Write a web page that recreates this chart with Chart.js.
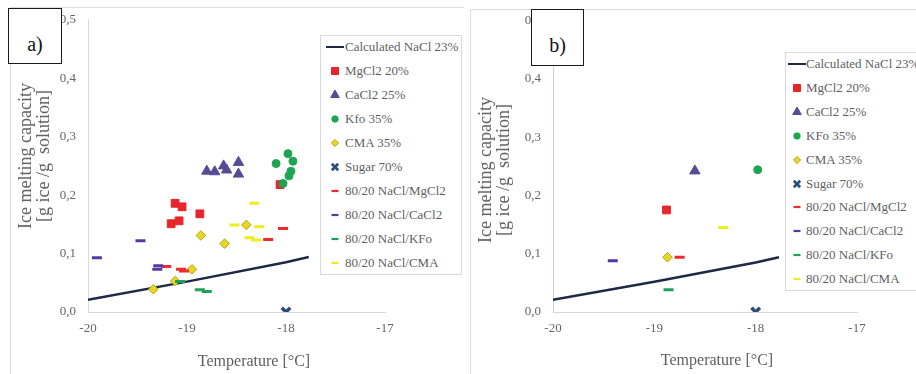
<!DOCTYPE html>
<html>
<head>
<meta charset="utf-8">
<title>Ice melting capacity</title>
<script src="https://cdn.jsdelivr.net/npm/chart.js@4.4.1/dist/chart.umd.min.js"></script>
<style>
  body { margin: 0; background: #fff; font-family: "Liberation Serif", "Times New Roman", serif; }
  #page { position: relative; width: 916px; height: 374px; overflow: hidden; }
  .frame { position: absolute; border-top: 1px solid #dcdcdc; border-left: 1px solid #dcdcdc; }
  canvas.plot { position: absolute; top: 0; }
  .tag { position: absolute; box-sizing: border-box; border: 1.5px solid #1a1a1a; background: #fff;
         font-size: 20px; line-height: 24px; padding-top: 23px; color: #111; text-align: center; }
  .legend { position: absolute; box-sizing: border-box; border: 1px solid #d9d9d9; background: #fff; overflow: hidden; }
  .legend .row { position: absolute; left: 0; right: 0; height: 24px; white-space: nowrap; }
  .legend canvas { position: absolute; top: 5px; }
  .legend span { position: absolute; top: 0; line-height: 24px; font-size: 13px; color: #5f5f5f; }
  .xtitle { position: absolute; font-size: 16px; color: #5f5f5f; white-space: nowrap; transform: translate(-50%, -50%); }
  .ytitle { position: absolute; font-size: 18px; line-height: 18px; color: #5f5f5f; text-align: center; white-space: pre;
            transform: translate(-50%, -50%) rotate(-90deg); }
</style>
</head>
<body>
<div id="page"></div>

<script>
// axis ticks
const xTicks = [-20, -19, -18, -17];
const yTicks = [0, 0.1, 0.2, 0.3, 0.4, 0.5];

// series names (panel b writes KFo)
const labelsA = ['Calculated NaCl 23%', 'MgCl2 20%', 'CaCl2 25%', 'Kfo 35%', 'CMA 35%', 'Sugar 70%',
  '80/20 NaCl/MgCl2', '80/20 NaCl/CaCl2', '80/20 NaCl/KFo', '80/20 NaCl/CMA'];
const labelsB = ['Calculated NaCl 23%', 'MgCl2 20%', 'CaCl2 25%', 'KFo 35%', 'CMA 35%', 'Sugar 70%',
  '80/20 NaCl/MgCl2', '80/20 NaCl/CaCl2', '80/20 NaCl/KFo', '80/20 NaCl/CMA'];

// [temperature °C, g ice / g solution]
const calcNaCl23 = [[-20, 0.021], [-19, 0.052], [-18, 0.085], [-17.77, 0.094]];

// panel a) - all measurements
const aMgCl2 = [[-19.12, 0.186], [-19.05, 0.180], [-19.16, 0.151], [-19.08, 0.156], [-18.87, 0.168], [-18.06, 0.218]];
const aCaCl2 = [[-18.80, 0.241], [-18.72, 0.240], [-18.63, 0.250], [-18.60, 0.243], [-18.48, 0.256], [-18.48, 0.236]];
const aKfo = [[-18.10, 0.254], [-17.98, 0.271], [-17.93, 0.258], [-17.95, 0.241], [-17.97, 0.233], [-18.03, 0.220]];
const aCMA = [[-19.34, 0.039], [-19.12, 0.053], [-18.95, 0.073], [-18.86, 0.131], [-18.62, 0.117], [-18.40, 0.149]];
const aSugar = [[-18.0, 0.0]];
const aNaClMgCl2 = [[-19.21, 0.078], [-19.06, 0.073], [-19.03, 0.070], [-18.18, 0.124], [-18.03, 0.143]];
const aNaClCaCl2 = [[-19.91, 0.093], [-19.47, 0.122], [-19.29, 0.079], [-19.30, 0.073]];
const aNaClKFo = [[-19.07, 0.052], [-18.87, 0.038], [-18.80, 0.035]];
const aNaClCMA = [[-18.52, 0.149], [-18.32, 0.186], [-18.27, 0.146], [-18.37, 0.127], [-18.30, 0.123]];

// panel b) - averages
const bMgCl2 = [[-18.88, 0.175]];
const bCaCl2 = [[-18.60, 0.242]];
const bKFo = [[-17.98, 0.244]];
const bCMA = [[-18.87, 0.094]];
const bSugar = [[-18.0, 0.0]];
const bNaClMgCl2 = [[-18.75, 0.094]];
const bNaClCaCl2 = [[-19.41, 0.088]];
const bNaClKFo = [[-18.86, 0.038]];
const bNaClCMA = [[-18.32, 0.145]];

const seriesA = [calcNaCl23, aMgCl2, aCaCl2, aKfo, aCMA, aSugar, aNaClMgCl2, aNaClCaCl2, aNaClKFo, aNaClCMA];
const seriesB = [calcNaCl23, bMgCl2, bCaCl2, bKFo, bCMA, bSugar, bNaClMgCl2, bNaClCaCl2, bNaClKFo, bNaClCMA];

// marker look, same order as the series
const seriesStyle = [
  { line: true, color: '#1d2a45', width: 2.5 },
  { pointStyle: 'rect', color: '#e6262c', r: 5.5, lr: 5 },
  { pointStyle: 'triangle', color: '#574c94', r: 6, lr: 5 },
  { pointStyle: 'circle', color: '#1ea552', r: 4, lr: 3.2 },
  { pointStyle: 'rectRot', color: '#e8d625', border: '#b5a510', r: 4.8, lr: 3.6 },
  { pointStyle: 'crossRot', color: '#2b4d7c', r: 6, lr: 4.5, bw: 3.5 },
  { pointStyle: 'line', color: '#ee2b2b', r: 5, lr: 3.5, bw: 3 },
  { pointStyle: 'line', color: '#5638a4', r: 5, lr: 3.5, bw: 3 },
  { pointStyle: 'line', color: '#1f9f5c', r: 5, lr: 3.5, bw: 3 },
  { pointStyle: 'line', color: '#eded1f', r: 5, lr: 3.5, bw: 3 },
];

const panels = [
  {
    left: 0, width: 460, axisLeft: 88, padTop: 18, padRight: 75, yBorder: '#d9d9d9',
    labels: labelsA, series: seriesA,
    frame: { left: 10, top: 7, width: 453, height: 400 },
    tag: { left: 8, top: 8, w: 54, h: 56, text: 'a)' },
    legend: { left: 320, top: 35, w: 142, h: 240, mark: 14.5, text: 25, first: 12, step: 24 },
    xTitle: { x: 254, y: 361 }, yTitle: { x: 34, y: 156 },
  },
  {
    left: 460, width: 456, axisLeft: 93, padTop: 20.5, padRight: 59, yBorder: '#bcd6ec',
    labels: labelsB, series: seriesB,
    frame: { left: 470, top: 9, width: 460, height: 400 },
    tag: { left: 531, top: 9, w: 53, h: 57, text: 'b)' },
    legend: { left: 785, top: 52, w: 140, h: 239, mark: 12, text: 21, first: 12, step: 23.9 },
    xTitle: { x: 717, y: 360 }, yTitle: { x: 494, y: 170 },
  },
];

const tickFont = { family: '"Liberation Serif", "Times New Roman", serif', size: 13 };
const page = document.getElementById('page');

function el(tag, cls, css) {
  const e = document.createElement(tag);
  if (cls) e.className = cls;
  Object.assign(e.style, css || {});
  page.appendChild(e);
  return e;
}

function buildDatasets(labels, series) {
  return series.map((pts, i) => {
    const s = seriesStyle[i];
    const base = { label: labels[i], data: pts.map(p => ({ x: p[0], y: p[1] })), order: -i };
    if (s.line) {
      return { ...base, showLine: true, pointRadius: 0, borderColor: s.color, borderWidth: s.width };
    }
    return {
      ...base,
      pointStyle: s.pointStyle,
      pointRadius: s.r,
      pointHoverRadius: s.r,
      backgroundColor: s.color,
      borderColor: s.border || s.color,
      borderWidth: s.bw || 1,
    };
  });
}

function drawLegend(p) {
  const L = p.legend;
  const box = el('div', 'legend', { left: L.left + 'px', top: L.top + 'px', width: L.w + 'px', height: L.h + 'px' });
  p.labels.forEach((label, i) => {
    const s = seriesStyle[i];
    const row = document.createElement('div');
    row.className = 'row';
    row.style.top = (L.first + i * L.step - 12 - 1) + 'px';
    box.appendChild(row);

    const c = document.createElement('canvas');
    c.width = 18; c.height = 14;
    c.style.left = (L.mark - 9 - 1) + 'px';
    row.appendChild(c);
    const ctx = c.getContext('2d');
    if (s.line) {
      ctx.strokeStyle = s.color; ctx.lineWidth = 2;
      ctx.beginPath(); ctx.moveTo(0, 7); ctx.lineTo(18, 7); ctx.stroke();
    } else {
      ctx.fillStyle = s.color;
      ctx.strokeStyle = s.border || s.color;
      ctx.lineWidth = s.bw ? s.bw - 0.8 : 1;
      Chart.helpers.drawPoint(ctx, { pointStyle: s.pointStyle, radius: s.lr, rotation: 0, borderWidth: ctx.lineWidth }, 9, 7);
    }

    const t = document.createElement('span');
    t.style.left = (L.text - 1) + 'px';
    t.textContent = label;
    row.appendChild(t);
  });
}

function render() {
  panels.forEach(p => {
    el('div', 'frame', { left: p.frame.left + 'px', top: p.frame.top + 'px', width: p.frame.width + 'px', height: p.frame.height + 'px' });

    const canvas = el('canvas', 'plot', { left: p.left + 'px' });
    canvas.width = p.width;
    canvas.height = 374;

    new Chart(canvas.getContext('2d'), {
      type: 'scatter',
      data: { datasets: buildDatasets(p.labels, p.series) },
      options: {
        responsive: false,
        animation: false,
        layout: { padding: { top: p.padTop, right: p.padRight, left: 0, bottom: 0 } },
        plugins: { legend: { display: false }, tooltip: { enabled: false } },
        scales: {
          x: {
            type: 'linear',
            min: xTicks[0],
            max: xTicks[xTicks.length - 1],
            afterBuildTicks: scale => { scale.ticks = xTicks.map(v => ({ value: v })); },
            grid: { display: false, drawTicks: false },
            border: { color: '#d9d9d9', width: 1 },
            ticks: { padding: 9, color: '#666', font: tickFont, callback: v => String(v) },
            afterFit: scale => { scale.height = 62; },
          },
          y: {
            min: yTicks[0],
            max: yTicks[yTicks.length - 1],
            afterBuildTicks: scale => { scale.ticks = yTicks.map(v => ({ value: v })); },
            grid: { display: false, drawTicks: false },
            border: { color: p.yBorder, width: 1 },
            ticks: { padding: 12, color: '#666', font: tickFont, callback: v => v.toFixed(1).replace('.', ',') },
            afterFit: scale => { scale.width = p.axisLeft; },
          },
        },
      },
    });

    const xt = el('div', 'xtitle', { left: p.xTitle.x + 'px', top: p.xTitle.y + 'px' });
    xt.textContent = 'Temperature [°C]';
    const yt = el('div', 'ytitle', { left: p.yTitle.x + 'px', top: p.yTitle.y + 'px' });
    yt.textContent = 'Ice melting capacity\n[g ice /g  solution]';

    drawLegend(p);

    const tag = el('div', 'tag', { left: p.tag.left + 'px', top: p.tag.top + 'px', width: p.tag.w + 'px', height: p.tag.h + 'px' });
    tag.textContent = p.tag.text;
  });
}

// make sure the serif face is ready before the canvas draws text
document.fonts.load('13px "Liberation Serif"').then(render, render);
</script>
</body>
</html>
